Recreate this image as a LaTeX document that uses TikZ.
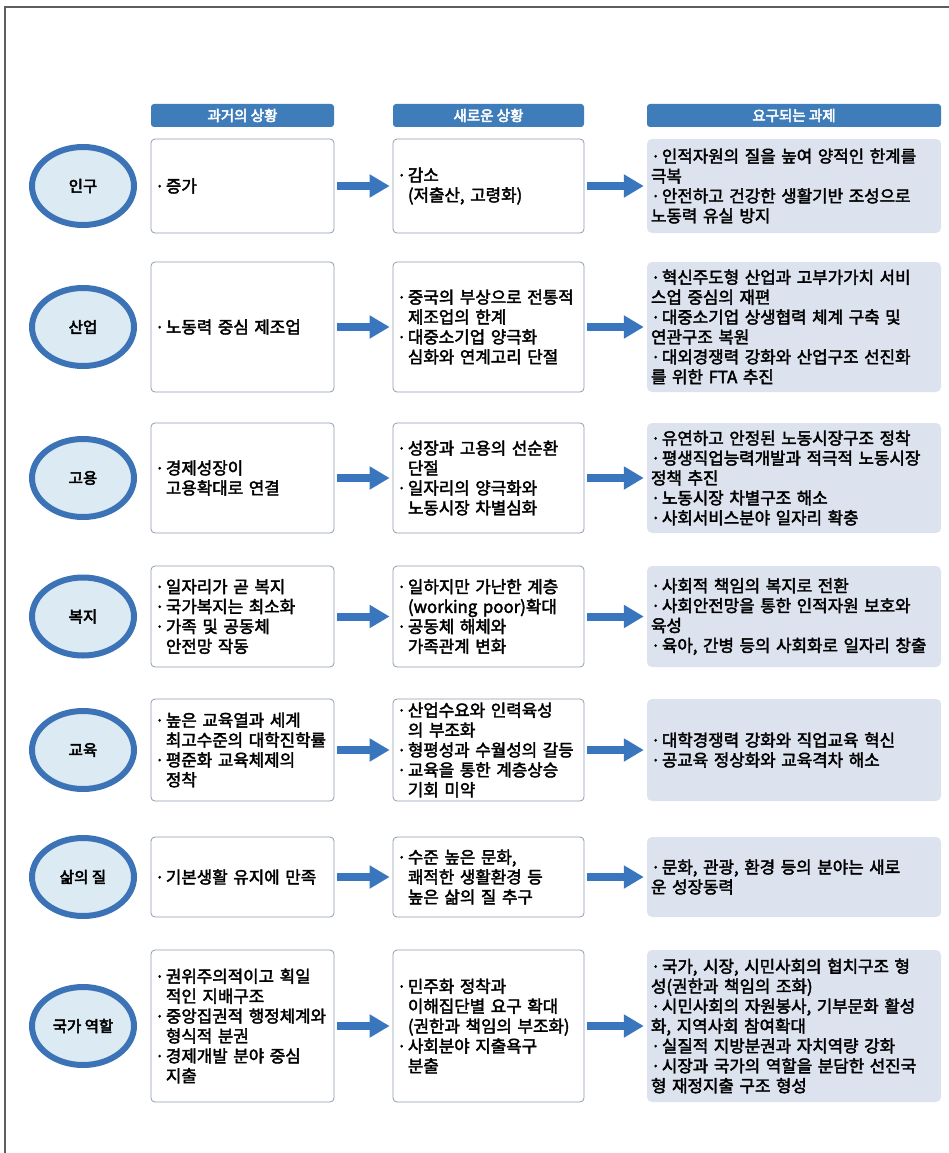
\documentclass[tikz,border=0pt]{standalone}
\usepackage{fontspec}
\newfontfamily\krbody{Noto Sans CJK KR}[WordSpace=1.4,FakeBold=2.4]
\newfontfamily\krhead{Noto Sans CJK KR}[FakeBold=3.4]
\usetikzlibrary{shapes.geometric,arrows.meta}
\definecolor{hdr}{HTML}{3F7DBA}
\definecolor{ring}{HTML}{3C72B6}
\definecolor{ringfill}{HTML}{DCEAF3}
\definecolor{edge}{HTML}{8E9DB0}
\definecolor{task}{HTML}{DCE3EE}
\definecolor{flowc}{HTML}{3A76BE}
\definecolor{framec}{HTML}{5E5E5E}
\newcommand\bul{·\hspace{1.5pt}}
\newcommand\ind{\hphantom{·\hspace{1.5pt}}}

\begin{document}
\begin{tikzpicture}[x=1pt, y=-1pt,
    font=\krbody\fontsize{16.8}{19.9}\selectfont,
    cell/.style={align=left, inner xsep=4pt, inner ysep=1pt, rounded corners=4pt},
    pbox/.style={cell, draw=edge, fill=white, line width=0.8pt, text width=175pt},
    nbox/.style={cell, draw=edge, fill=white, line width=0.8pt, text width=183pt},
    tbox/.style={cell, fill=task, text width=286pt, rounded corners=5pt},
    hdr/.style={fill=hdr, rounded corners=3pt, minimum height=23pt, inner sep=0pt,
                text=white, font=\krhead\fontsize{14.5}{16}\selectfont},
    topic/.style={ellipse, draw=ring, line width=6pt, fill=ringfill, minimum width=102pt,
                  minimum height=78pt, inner sep=0pt, font=\krhead\fontsize{15.5}{18}\selectfont},
    flow/.style={draw=flowc, line width=8pt, -{Triangle[length=20pt,width=22pt]},
                 shorten <=3pt, shorten >=3pt},
  ]
  \fill[white] (0,0) rectangle (949,1153);
  \useasboundingbox (0,0) rectangle (949,1153);

  % ---- page frame
  \coordinate (fbl) at (5,1153);
  \coordinate (ftr) at (949,7);
  \draw[framec, line width=2pt] (fbl) |- (ftr);

  % ---- column heads
  \node[hdr, minimum width=183pt] (h1) at (242.5,115.5) {과거의 상황};
  \node[hdr, minimum width=191pt] (h2) at (488.5,115.5) {새로운 상황};
  \node[hdr, minimum width=294pt] (h3) at (794,115.5) {요구되는 과제};

  % ---- 인구
  \node[topic] (c1) at (83,186) {인구};
  \node[pbox, minimum height=94pt] (p1) at (242.5,186) {\bul 증가};
  \node[nbox, minimum height=94pt] (n1) at (488.5,186) {\bul 감소\\ \ind(저출산, 고령화)};
  \node[tbox, minimum height=94pt] (t1) at (794,186)
    {\bul 인적자원의 질을 높여 양적인 한계를\\ 극복\\ \bul 안전하고 건강한 생활기반 조성으로\\ 노동력 유실 방지};

  % ---- 산업
  \node[topic] (c2) at (83,327) {산업};
  \node[pbox, minimum height=130pt] (p2) at (242.5,327) {\bul 노동력 중심 제조업};
  \node[nbox, minimum height=130pt] (n2) at (488.5,327)
    {\bul 중국의 부상으로 전통적\\ \ind 제조업의 한계\\ \bul 대중소기업 양극화\\ \ind 심화와 연계고리 단절};
  \node[tbox, minimum height=130pt] (t2) at (794,327)
    {\bul 혁신주도형 산업과 고부가가치 서비\\ 스업 중심의 재편\\ \bul 대중소기업 상생협력 체계 구축 및\\
     연관구조 복원\\ \bul 대외경쟁력 강화와 산업구조 선진화\\ 를 위한 FTA 추진};

  % ---- 고용
  \node[topic] (c3) at (83,478) {고용};
  \node[pbox, minimum height=110pt] (p3) at (242.5,478) {\bul 경제성장이\\ \ind 고용확대로 연결};
  \node[nbox, minimum height=110pt] (n3) at (488.5,478)
    {\bul 성장과 고용의 선순환\\ \ind 단절\\ \bul 일자리의 양극화와\\ \ind 노동시장 차별심화};
  \node[tbox, minimum height=110pt] (t3) at (794,478)
    {\bul 유연하고 안정된 노동시장구조 정착\\ \bul 평생직업능력개발과 적극적 노동시장\\ 정책 추진\\
     \bul 노동시장 차별구조 해소\\ \bul 사회서비스분야 일자리 확충};

  % ---- 복지
  \node[topic] (c4) at (83,616.5) {복지};
  \node[pbox, minimum height=101pt] (p4) at (242.5,616.5)
    {\bul 일자리가 곧 복지\\ \bul 국가복지는 최소화\\ \bul 가족 및 공동체\\ \ind 안전망 작동};
  \node[nbox, minimum height=101pt] (n4) at (488.5,616.5)
    {\bul 일하지만 가난한 계층\\ \ind(working poor)확대\\ \bul 공동체 해체와\\ \ind 가족관계 변화};
  \node[tbox, minimum height=101pt] (t4) at (794,616.5)
    {\bul 사회적 책임의 복지로 전환\\ \bul 사회안전망을 통한 인적자원 보호와\\ 육성\\ \bul 육아, 간병 등의 사회화로 일자리 창출};

  % ---- 교육
  \node[topic] (c5) at (83,750) {교육};
  \node[pbox, minimum height=102pt] (p5) at (242.5,750)
    {\bul 높은 교육열과 세계\\ \ind 최고수준의 대학진학률\\ \bul 평준화 교육체제의\\ \ind 정착};
  \node[nbox, minimum height=102pt] (n5) at (488.5,750)
    {\bul 산업수요와 인력육성\\ \ind 의 부조화\\ \bul 형평성과 수월성의 갈등\\ \bul 교육을 통한 계층상승\\ \ind 기회 미약};
  \node[tbox, minimum height=102pt] (t5) at (794,750)
    {\bul 대학경쟁력 강화와 직업교육 혁신\\ \bul 공교육 정상화와 교육격차 해소};

  % ---- 삶의 질
  \node[topic] (c6) at (83,877) {삶의 질};
  \node[pbox, minimum height=80pt] (p6) at (242.5,877) {\bul 기본생활 유지에 만족};
  \node[nbox, minimum height=80pt] (n6) at (488.5,877)
    {\bul 수준 높은 문화,\\ \ind 쾌적한 생활환경 등\\ \ind 높은 삶의 질 추구};
  \node[tbox, minimum height=80pt] (t6) at (794,877)
    {\bul 문화, 관광, 환경 등의 분야는 새로\\ 운 성장동력};

  % ---- 국가 역할
  \node[topic] (c7) at (83,1026) {국가 역할};
  \node[pbox, minimum height=152pt] (p7) at (242.5,1026)
    {\bul 권위주의적이고 획일\\ \ind 적인 지배구조\\ \bul 중앙집권적 행정체계와\\ \ind 형식적 분권\\
     \bul 경제개발 분야 중심\\ \ind 지출};
  \node[nbox, minimum height=152pt] (n7) at (488.5,1026)
    {\bul 민주화 정착과\\ \ind 이해집단별 요구 확대\\ \ind(권한과 책임의 부조화)\\ \bul 사회분야 지출욕구\\ \ind 분출};
  \node[tbox, minimum height=152pt] (t7) at (794,1026)
    {\bul 국가, 시장, 시민사회의 협치구조 형\\ 성(권한과 책임의 조화)\\ \bul 시민사회의 자원봉사, 기부문화 활성\\
     화, 지역사회 참여확대\\ \bul 실질적 지방분권과 자치역량 강화\\ \bul 시장과 국가의 역할을 분담한 선진국\\
     형 재정지출 구조 형성};

  % ---- arrows between the columns
  \draw[flow] (p1) -- (n1);
  \draw[flow] (n1) -- (t1);
  \draw[flow] (p2) -- (n2);
  \draw[flow] (n2) -- (t2);
  \draw[flow] (p3) -- (n3);
  \draw[flow] (n3) -- (t3);
  \draw[flow] (p4) -- (n4);
  \draw[flow] (n4) -- (t4);
  \draw[flow] (p5) -- (n5);
  \draw[flow] (n5) -- (t5);
  \draw[flow] (p6) -- (n6);
  \draw[flow] (n6) -- (t6);
  \draw[flow] (p7) -- (n7);
  \draw[flow] (n7) -- (t7);
\end{tikzpicture}
\end{document}
